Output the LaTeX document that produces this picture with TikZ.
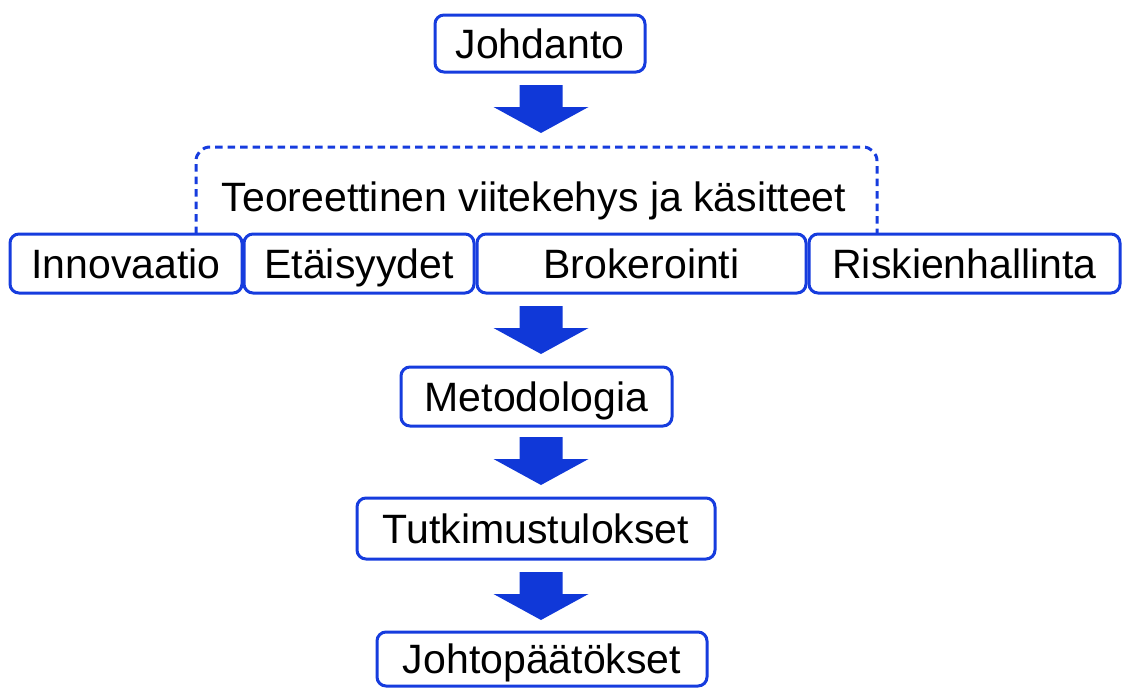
\documentclass[tikz,border=0pt]{standalone}
\usepackage{fontspec}
\setmainfont{Liberation Sans}
\definecolor{flowblue}{RGB}{22,60,222}
\definecolor{arrowblue}{RGB}{16,56,216}
\begin{document}
\begin{tikzpicture}[x=1pt,y=1pt,
  stagebox/.style={draw=flowblue, line width=3pt, rounded corners=9pt, fill=white,
    inner sep=0pt, text height=29.4pt, text depth=0pt,
    font=\fontsize{41}{49}\selectfont},
  titletext/.style={inner sep=0pt, text height=29.4pt, text depth=0pt,
    font=\fontsize{41}{49}\selectfont},
  frame/.style={draw=flowblue, line width=3pt, dash pattern=on 7.5pt off 5pt, rounded corners=14pt},
  downarrow/.pic={\fill[arrowblue] (-21.5,0) -- (21.5,0) -- (21.5,-22) -- (47.5,-22)
     -- (0,-48) -- (-47.5,-22) -- (-21.5,-22) -- cycle;}
]
\useasboundingbox (0,0) rectangle (1122,-688);

% dashed frame around the theory block
\draw[frame] (196,-234) -- (196,-147) -- (877,-147) -- (877,-234);
\node[titletext] (teoria) at (534,-196.5) {Teoreettinen viitekehys ja käsitteet};

\node[stagebox, minimum width=210pt, minimum height=57pt] (johdanto) at (540,-43.5) {Johdanto};

\node[stagebox, minimum width=232pt, minimum height=59pt] (innov) at (126,-263.5) {Innovaatio};
\node[stagebox, minimum width=230pt, minimum height=59pt] (etais) at (359,-263.5) {Etäisyydet};
\node[stagebox, minimum width=329pt, minimum height=59pt] (broker) at (641.5,-263.5) {Brokerointi};
\node[stagebox, minimum width=311pt, minimum height=59pt] (riski) at (964.5,-263.5) {Riskienhallinta};

\node[stagebox, minimum width=271pt, minimum height=59pt] (metod) at (536.5,-396.5) {Metodologia};
\node[stagebox, minimum width=358pt, minimum height=61pt] (tutki) at (536,-528.5) {Tutkimustulokset};
\node[stagebox, minimum width=330pt, minimum height=54pt] (johto) at (542,-659) {Johtopäätökset};

% block arrows between the stages
\pic at (541,-85) {downarrow};
\pic at (541,-306) {downarrow};
\pic at (541,-437) {downarrow};
\pic at (541,-572) {downarrow};
\end{tikzpicture}
\end{document}
